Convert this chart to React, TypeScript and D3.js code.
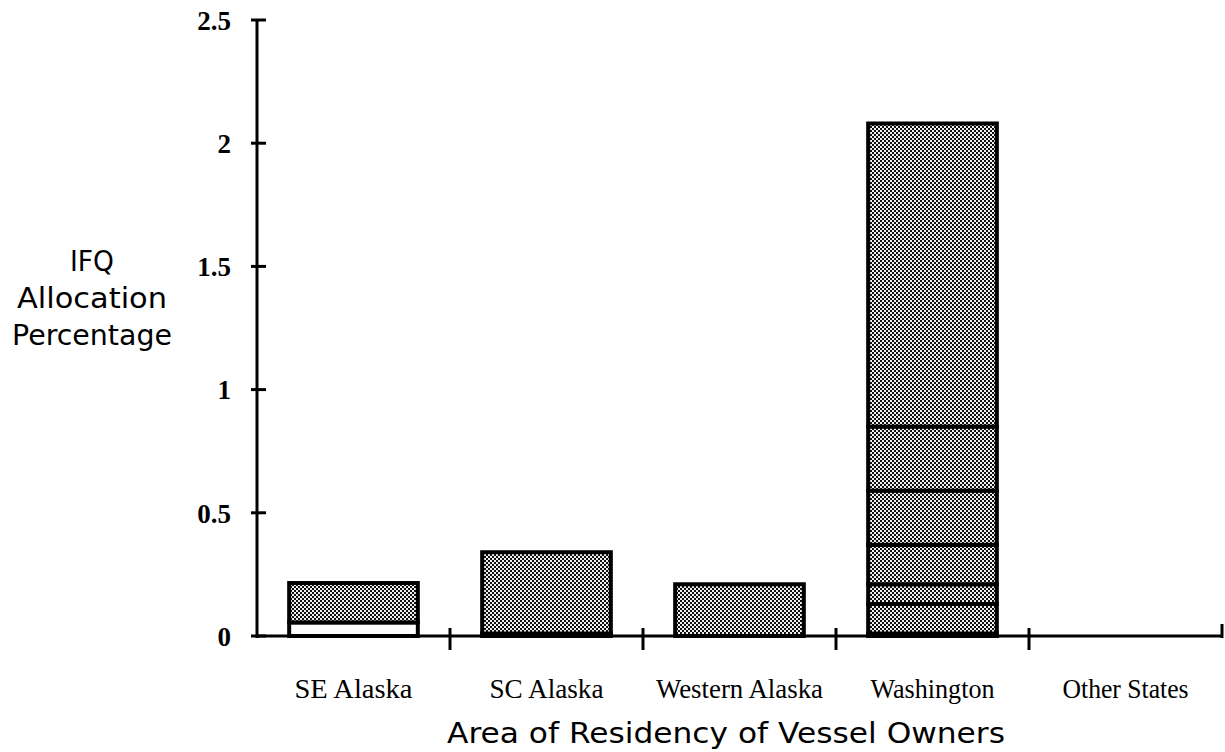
import React from "react";
import * as d3 from "d3";

const categories = ["SE Alaska", "SC Alaska", "Western Alaska", "Washington", "Other States"];
// stacked layers (bottom to top); layer 0 is the unshaded base segment
const layerBase = [0.055, 0.01, 0, 0.01, 0];
const layer1 = [0.16, 0.33, 0.21, 0.12, 0];
const layer2 = [0, 0, 0, 0.08, 0];
const layer3 = [0, 0, 0, 0.16, 0];
const layer4 = [0, 0, 0, 0.22, 0];
const layer5 = [0, 0, 0, 0.26, 0];
const layer6 = [0, 0, 0, 1.23, 0];
const layers = [layerBase, layer1, layer2, layer3, layer4, layer5, layer6];
const yTicks = [0, 0.5, 1, 1.5, 2, 2.5];
const yTickLabels = ["0", "0.5", "1", "1.5", "2", "2.5"];
const yTitle = ["IFQ", "Allocation", "Percentage"];
const xTitle = "Area of Residency of Vessel Owners";
const catLabelWidths = [118, 114, 167, 124, 126];

export default function App() {
  const W = 1225, H = 752;
  const x0 = 257, x1 = 1222, yBase = 636, yTop = 20;
  const x = d3.scaleBand<string>().domain(categories).range([x0, x1]).paddingInner(1 / 3).paddingOuter(1 / 6);
  const y = d3.scaleLinear().domain([0, 2.5]).range([yBase, yTop]);

  const table = categories.map((c, i) => {
    const o: any = { cat: c };
    layers.forEach((l, k) => (o["L" + k] = l[i]));
    return o;
  });
  const keys = layers.map((_, k) => "L" + k);
  const stacked = d3.stack<any>().keys(keys)(table);

  const step = x.step();
  const tickXs = categories.map((_, i) => x0 + step * (i + 1));

  return (
    <svg width={W} height={H} style={{ position: "absolute", left: 0, top: 0, background: "#fff" }}>
      <defs>
        <pattern id="stip" width={4} height={4} patternUnits="userSpaceOnUse">
          <rect width={4} height={4} fill="#f0f0f0" />
          <rect x={0} y={0} width={2} height={2} fill="#111" />
          <rect x={2} y={2} width={2} height={2} fill="#111" />
        </pattern>
      </defs>
      <rect width={W} height={H} fill="#fff" />
      {/* bars */}
      {stacked.map((s, k) =>
        s.map((d, i) => {
          const v = d[1] - d[0];
          if (v <= 0) return null;
          const bx = x(categories[i])!;
          return (
            <rect
              key={k + "-" + i}
              x={bx}
              y={y(d[1])}
              width={x.bandwidth()}
              height={y(d[0]) - y(d[1])}
              fill={k === 0 ? "#fff" : "url(#stip)"}
              stroke="#000"
              strokeWidth={4}
            />
          );
        })
      )}
      {/* y axis */}
      <line x1={x0} x2={x0} y1={y(2.5)} y2={yBase + 2} stroke="#000" strokeWidth={3} />
      {yTicks.map((t, i) => (
        <g key={t}>
          <line x1={x0 - 6} x2={x0 + 9} y1={y(t)} y2={y(t)} stroke="#000" strokeWidth={3} />
          <text
            x={x0 - 26}
            y={y(t)}
            dy="0.36em"
            textAnchor="end"
            fontFamily="'Liberation Serif', serif"
            fontWeight="bold"
            fontSize={27}
            fill="#000"
          >
            {yTickLabels[i]}
          </text>
        </g>
      ))}
      {/* x axis */}
      <line x1={x0} x2={x1} y1={yBase} y2={yBase} stroke="#000" strokeWidth={3} />
      {tickXs.map((tx, i) => (
        <line key={i} x1={tx} x2={tx} y1={i === tickXs.length - 1 ? yBase - 12 : yBase - 8} y2={i === tickXs.length - 1 ? yBase + 2 : yBase + 14} stroke="#000" strokeWidth={3} />
      ))}
      {categories.map((c, i) => (
        <text
          key={c}
          x={x(c)! + x.bandwidth() / 2}
          y={698}
          textAnchor="middle"
          fontFamily="'Liberation Serif', serif"
          fontSize={27}
          textLength={catLabelWidths[i]}
          lengthAdjust="spacingAndGlyphs"
          fill="#000"
        >
          {c}
        </text>
      ))}
      <text
        x={726}
        y={743}
        textAnchor="middle"
        fontFamily="'DejaVu Sans', sans-serif"
        fontSize={28}
        textLength={558}
        lengthAdjust="spacingAndGlyphs"
        fill="#000"
      >
        {xTitle}
      </text>
      {yTitle.map((t, i) => (
        <text
          key={t}
          x={92}
          y={271 + i * 37}
          textAnchor="middle"
          fontFamily="'DejaVu Sans', sans-serif"
          fontSize={28}
          textLength={[44, 150, 160][i]}
          lengthAdjust="spacingAndGlyphs"
          fill="#000"
        >
          {t}
        </text>
      ))}
    </svg>
  );
}
